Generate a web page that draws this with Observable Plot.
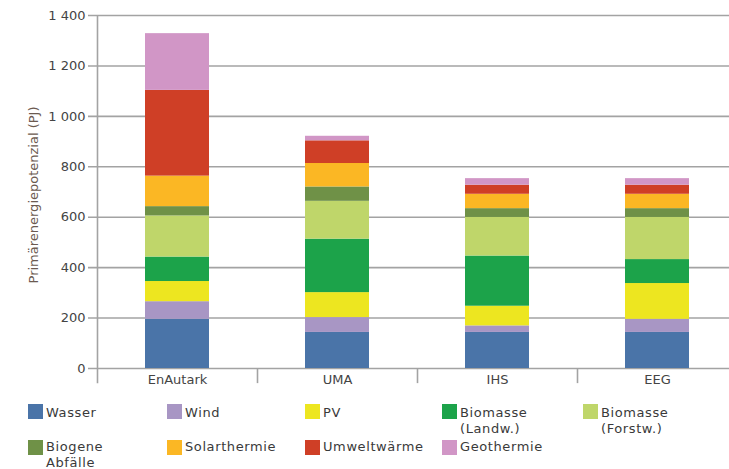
<!DOCTYPE html>
<html>
<head>
<meta charset="utf-8">
<script src="https://cdn.jsdelivr.net/npm/d3@7"></script>
<script src="https://cdn.jsdelivr.net/npm/@observablehq/plot@0.6"></script>
<style>
  html, body { margin: 0; padding: 0; background: #fff; overflow: hidden; }
  #chart { position: relative; width: 729px; height: 469px; overflow: hidden; font-family: "DejaVu Sans", sans-serif; }
  #chart svg { max-width: none !important; }
  #legend { position: absolute; left: 28px; top: 404px; display: grid; grid-template-columns: 139px 138px 137px 141px 140px; grid-template-rows: 35px 31px; }
  .item { display: flex; align-items: flex-start; font-size: 13px; line-height: 15.5px; letter-spacing: 0.6px; color: #3a3a3a; }
  .sw { width: 15px; height: 15px; margin-right: 3px; flex: none; }
  .item .lbl { padding-top: 1px; }
  .item.r2 .sw { margin-top: 1px; }
  .item.r2 .lbl { padding-top: 0; }
</style>
</head>
<body>
<div id="chart"></div>
<script>
const categories = ["EnAutark", "UMA", "IHS", "EEG"];
const series = ["Wasser", "Wind", "PV", "Biomasse (Landw.)", "Biomasse (Forstw.)", "Biogene Abfälle", "Solarthermie", "Umweltwärme", "Geothermie"];
const legendLabels = ["Wasser", "Wind", "PV", "Biomasse<br>(Landw.)", "Biomasse<br>(Forstw.)", "Biogene<br>Abfälle", "Solarthermie", "Umweltwärme", "Geothermie"];
const colors = ["#4a74a8", "#a896c4", "#ede620", "#1ca34a", "#bfd66a", "#6f9147", "#fbb724", "#cf3f26", "#d196c6"];
// values per series, in category order
const Wasser     = [195, 143, 143, 143];
const Wind       = [70, 59, 26, 52];
const PV         = [80, 99, 78, 142];
const BioLandw   = [97, 212, 199, 95];
const BioForstw  = [163, 150, 153, 167];
const Biogene    = [37, 57, 35, 35];
const Solar      = [121, 93, 57, 57];
const Umwelt     = [340, 90, 36, 36];
const Geo        = [225, 18, 26, 26];
const yTicks = [0, 200, 400, 600, 800, 1000, 1200, 1400];
const yLabel = "Primärenergiepotenzial (PJ)";

const seriesValues = [Wasser, Wind, PV, BioLandw, BioForstw, Biogene, Solar, Umwelt, Geo];
const data = [];
series.forEach((s, si) => categories.forEach((c, ci) => data.push({cat: c, series: s, value: seriesValues[si][ci]})));

const W = 737, H = 395, mL = 97, mR = 0, mT = 15, mB = 27;
const step = (W - mL - mR) / categories.length;
const fmt = d => d >= 1000 ? d3.format(",")(d).replace(",", " ") : String(d);
const gridColor = "#a3a3a3";

const plot = Plot.plot({
  width: W, height: H,
  marginLeft: mL, marginRight: mR, marginTop: mT, marginBottom: mB,
  style: {fontFamily: "DejaVu Sans, sans-serif", background: "transparent", maxWidth: "none"},
  x: {domain: categories, paddingInner: 0.6, paddingOuter: 0.3, axis: null},
  y: {domain: [0, 1400], axis: null},
  color: {domain: series, range: colors},
  marks: [
    Plot.ruleY(yTicks, {stroke: gridColor, strokeWidth: 1.6, insetLeft: -9}),
    Plot.ruleX(categories.slice(0, 1), {x: d => d, y1: -60, y2: 1400, dx: -step / 2, stroke: gridColor, strokeWidth: 1.6}),
    Plot.ruleX(categories.slice(1), {x: d => d, y1: -60, y2: 0, dx: -step / 2, stroke: gridColor, strokeWidth: 1.6}),
    Plot.barY(data, {x: "cat", y: "value", fill: "series"}),
    Plot.text(yTicks, {y: d => d, frameAnchor: "left", dx: -12, textAnchor: "end", text: fmt, fontSize: 13, fill: "#444"}),
    Plot.axisX({tickSize: 0, tickPadding: 6, fontSize: 13, color: "#444", label: null}),
    Plot.text([yLabel], {frameAnchor: "left", textAnchor: "middle", rotate: -90, dx: -64, dy: 3, fontSize: 13, letterSpacing: "1.2px", fill: "#6b5a50"})
  ]
});

const chart = document.getElementById("chart");
chart.appendChild(plot);
const legend = document.createElement("div");
legend.id = "legend";
series.forEach((s, i) => {
  const it = document.createElement("div");
  it.className = "item" + (i >= 5 ? " r2" : "");
  it.innerHTML = `<span class="sw" style="background:${colors[i]}"></span><span class="lbl">${legendLabels[i]}</span>`;
  legend.appendChild(it);
});
chart.appendChild(legend);
</script>
</body>
</html>
